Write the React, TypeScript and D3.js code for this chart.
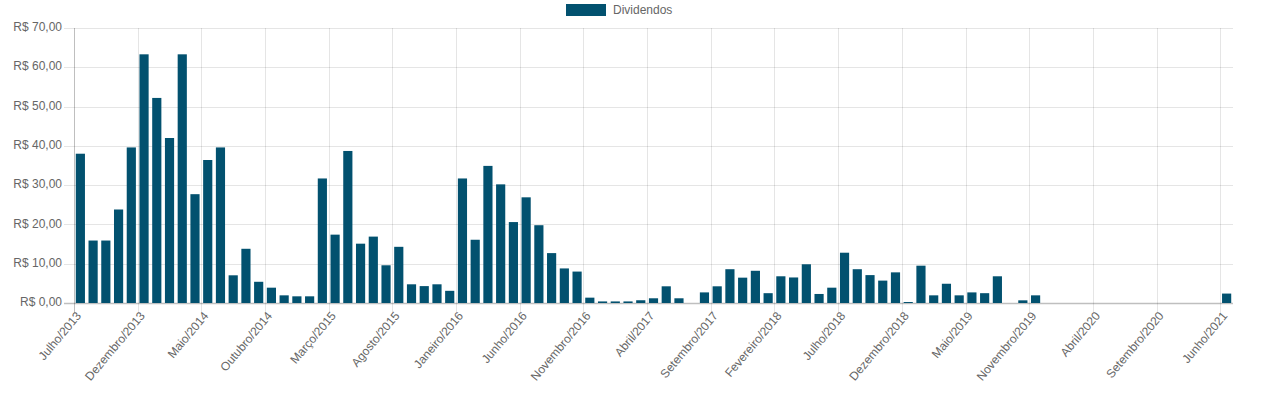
import React from 'react';
import * as d3 from 'd3';

const width = 1266;
const height = 396;
const margin = { top: 28, right: 33, bottom: 93, left: 74 };

// month labels, in the order the source chart lists them
const months2013 = ['Julho/2013', 'Agosto/2013', 'Setembro/2013', 'Outubro/2013', 'Novembro/2013', 'Dezembro/2013'];
const months2014 = ['Janeiro/2014', 'Fevereiro/2014', 'Março/2014', 'Abril/2014', 'Maio/2014', 'Junho/2014', 'Julho/2014', 'Agosto/2014', 'Setembro/2014', 'Outubro/2014', 'Novembro/2014', 'Dezembro/2014'];
const months2015 = ['Janeiro/2015', 'Fevereiro/2015', 'Março/2015', 'Abril/2015', 'Maio/2015', 'Junho/2015', 'Julho/2015', 'Agosto/2015', 'Setembro/2015', 'Outubro/2015', 'Novembro/2015', 'Dezembro/2015'];
const months2016 = ['Janeiro/2016', 'Fevereiro/2016', 'Março/2016', 'Abril/2016', 'Maio/2016', 'Junho/2016', 'Julho/2016', 'Agosto/2016', 'Setembro/2016', 'Outubro/2016', 'Novembro/2016', 'Dezembro/2016'];
const months2017 = ['Janeiro/2017', 'Fevereiro/2017', 'Março/2017', 'Abril/2017', 'Maio/2017', 'Junho/2017', 'Julho/2017', 'Agosto/2017', 'Setembro/2017', 'Outubro/2017', 'Novembro/2017', 'Dezembro/2017'];
const months2018 = ['Janeiro/2018', 'Fevereiro/2018', 'Março/2018', 'Abril/2018', 'Maio/2018', 'Junho/2018', 'Julho/2018', 'Agosto/2018', 'Setembro/2018', 'Outubro/2018', 'Novembro/2018', 'Dezembro/2018'];
const months2019 = ['Janeiro/2019', 'Fevereiro/2019', 'Março/2019', 'Abril/2019', 'Maio/2019', 'Junho/2019', 'Julho/2019', 'Agosto/2019', 'Outubro/2019', 'Novembro/2019', 'Dezembro/2019'];
const months2020 = ['Janeiro/2020', 'Fevereiro/2020', 'Março/2020', 'Abril/2020', 'Maio/2020', 'Junho/2020', 'Julho/2020', 'Agosto/2020', 'Setembro/2020', 'Outubro/2020', 'Novembro/2020', 'Dezembro/2020'];
const months2021 = ['Janeiro/2021', 'Junho/2021'];

const categories = [...months2013, ...months2014, ...months2015, ...months2016, ...months2017, ...months2018, ...months2019, ...months2020, ...months2021];

// dividend per month (R$)
const dividendos = [
  38.0, 15.9, 15.9, 23.8, 39.6, 63.3,
  52.2, 42.0, 63.3, 27.7, 36.4, 39.6, 7.05, 13.8, 5.4, 3.9, 1.95, 1.7,
  1.7, 31.7, 17.4, 38.7, 15.1, 16.9, 9.6, 14.3, 4.76, 4.3, 4.76, 3.1,
  31.7, 16.1, 34.9, 30.2, 20.6, 26.9, 19.8, 12.7, 8.8, 8.0, 1.36, 0.4,
  0.4, 0.4, 0.7, 1.2, 4.25, 1.2, 0, 2.7, 4.25, 8.6, 6.45, 8.2,
  2.5, 6.8, 6.5, 9.86, 2.3, 3.9, 12.8, 8.6, 7.1, 5.7, 7.8, 0.25,
  9.5, 1.95, 4.9, 1.95, 2.7, 2.5, 6.8, 0, 0.68, 1.95, 0,
  0, 0, 0, 0, 0, 0, 0, 0, 0, 0, 0, 0,
  0, 2.4,
];

const yTicks = [0, 10, 20, 30, 40, 50, 60, 70];
const labelEvery = 5;

const font = "Arial, 'Liberation Sans', sans-serif";
const textColor = '#666';
const barColor = '#02516f';

const formatBRL = (v: number) => 'R$ ' + v.toFixed(2).replace('.', ',');

export default function App() {
  const x = d3.scaleBand<string>()
    .domain(categories)
    .range([margin.left, width - margin.right])
    .padding(0);
  const y = d3.scaleLinear().domain([0, 70]).range([height - margin.bottom, margin.top]);

  const bw = x.bandwidth();
  const barW = bw * 0.72;
  const bottom = y(0);
  const right = width - margin.right;

  // shown labels: every 5th plus the last
  const shown = categories.filter((c, i) => i % labelEvery === 0 || i === categories.length - 1);

  return (
    <div style={{ position: 'absolute', left: 0, top: 0 }}>
      <svg width={width} height={height} style={{ display: 'block' }} fontFamily={font}>
        {/* legend */}
        <rect x={566} y={4} width={40} height={12} fill={barColor} />
        <text x={613} y={10.5} fontSize={12} fill={textColor} dominantBaseline="middle">Dividendos</text>

        {/* horizontal grid + y ticks */}
        {yTicks.map(t => (
          <g key={'y' + t}>
            <line x1={margin.left - 10} x2={right} y1={Math.round(y(t)) + 0.5} y2={Math.round(y(t)) + 0.5}
              stroke={t === 0 ? 'rgba(0,0,0,0.25)' : 'rgba(0,0,0,0.1)'} strokeWidth={t === 0 ? 1.5 : 1} />
            <text x={margin.left - 12} y={y(t)} fontSize={12} fill={textColor} textAnchor="end" dominantBaseline="middle">
              {formatBRL(t)}
            </text>
          </g>
        ))}

        {/* vertical grid at shown labels */}
        {shown.map(c => {
          const gx = Math.round(x(c)!) + 0.5;
          return (
            <line key={'g' + c} x1={gx} x2={gx} y1={margin.top} y2={bottom + 10}
              stroke={c === categories[0] ? 'rgba(0,0,0,0.25)' : 'rgba(0,0,0,0.1)'} />
          );
        })}

        {/* bars */}
        {dividendos.map((v, i) => {
          const cx = x(categories[i])! + bw / 2;
          const top = y(v);
          return (
            <rect key={i} x={cx - barW / 2} y={top} width={barW} height={bottom - top} fill={barColor} />
          );
        })}

        {/* x labels */}
        {shown.map(c => {
          const cx = x(c)! + bw / 2 - 1;
          const ly = bottom + 11;
          return (
            <text key={'l' + c} transform={`translate(${cx},${ly}) rotate(-50)`} fontSize={12} fill={textColor}
              textAnchor="end" dominantBaseline="middle">
              {c}
            </text>
          );
        })}
      </svg>
    </div>
  );
}
